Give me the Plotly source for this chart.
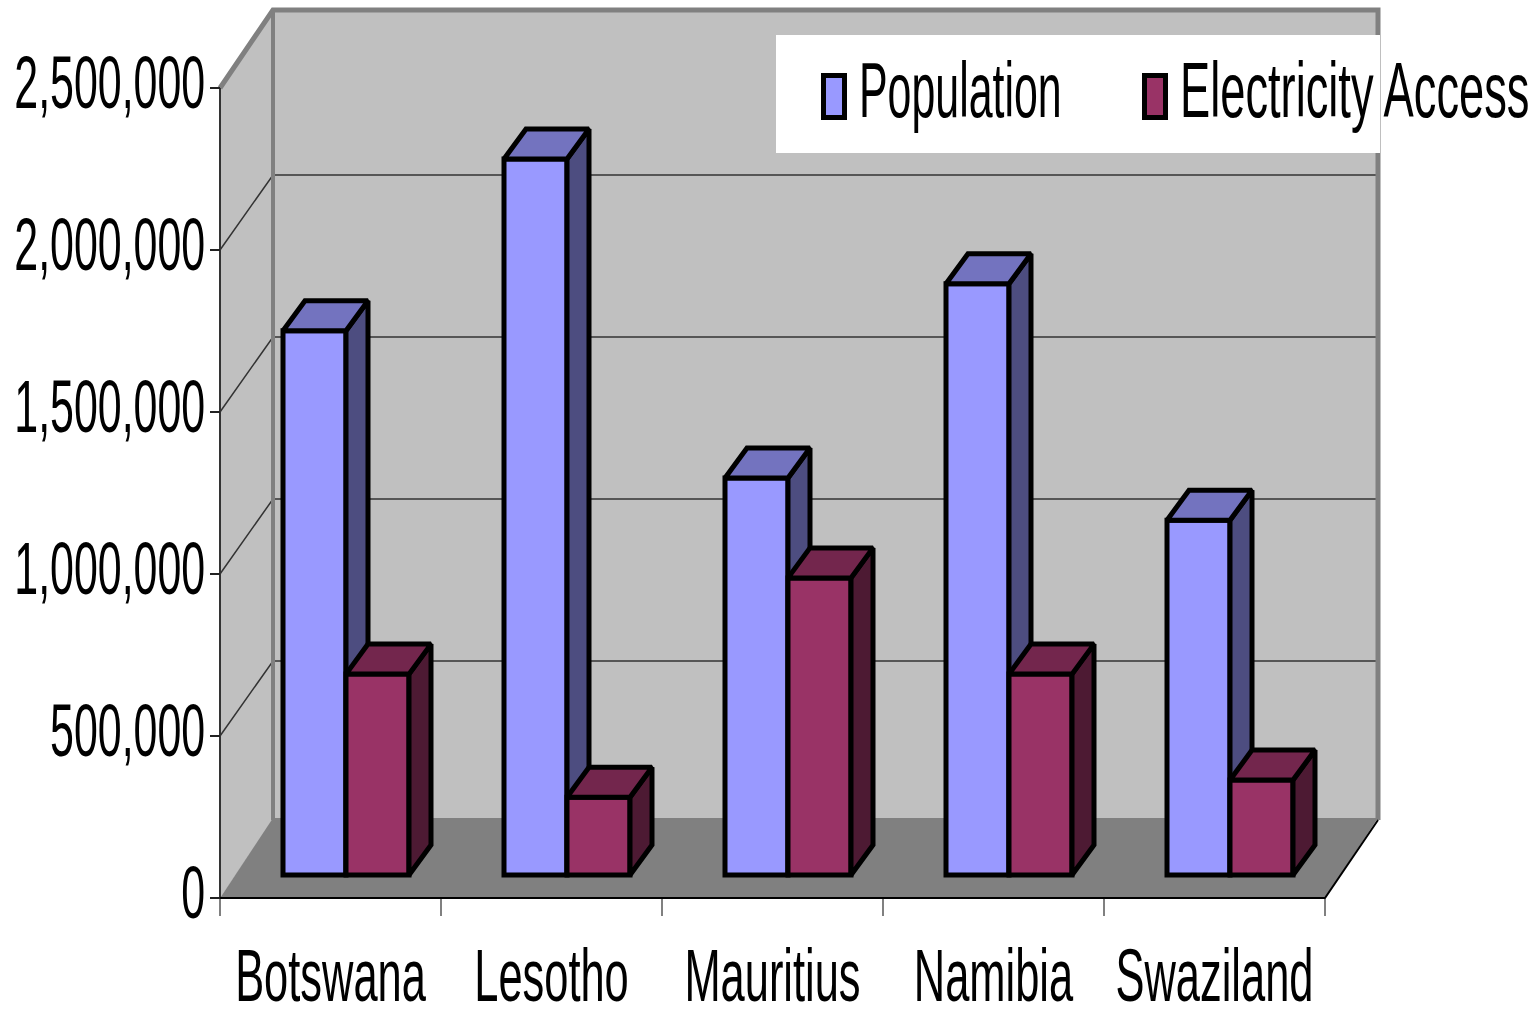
import plotly.graph_objects as go

# Chart data
countries = ["Botswana", "Lesotho", "Mauritius", "Namibia", "Swaziland"]
population = [1680000, 2210000, 1225000, 1825000, 1095000]
electricity_access = [620000, 240000, 917000, 620000, 293000]
value_ticks = [0, 500000, 1000000, 1500000, 2000000, 2500000]

W, H = 1535, 1009
AXIS_LEFT, AXIS_BOTTOM = 220, 898
SLOT_PX = 221.0
UNIT_PX = 810.0 / 2500000

def dx(px):
    return px / SLOT_PX

def dy(px):
    return px / UNIT_PX

x_range = [-dx(AXIS_LEFT), dx(W - AXIS_LEFT)]
y_range = [-dy(H - AXIS_BOTTOM), dy(AXIS_BOTTOM)]

# Oblique offsets that fake the 3D box and the bar prisms
WALL_DX, WALL_DY = dx(53), dy(78)
GRID_DY = dy(75)
FLOOR_DY = dy(80)
BAR_DX, BAR_DY = dx(22), dy(30)
BAR_LIFT = dy(23)
BAR_W = dx(63)
BAR_START = dx(63)
BAR_EDGE = 5
N = len(countries)
TOP = value_ticks[-1]

fig = go.Figure()

def poly(xs, ys, fill, axes=("x", "y"), line=None, lw=0):
    fig.add_trace(go.Scatter(
        x=xs, y=ys, mode="lines", fill="toself", fillcolor=fill,
        line=dict(color=line or fill, width=lw), hoverinfo="skip",
        showlegend=False, xaxis=axes[0], yaxis=axes[1]))

def stroke(xs, ys, color, width):
    fig.add_trace(go.Scatter(
        x=xs, y=ys, mode="lines", line=dict(color=color, width=width),
        hoverinfo="skip", showlegend=False, xaxis="x", yaxis="y"))

# Walls
poly([WALL_DX, N + WALL_DX, N + WALL_DX, WALL_DX],
     [WALL_DY, WALL_DY, TOP + WALL_DY, TOP + WALL_DY], "#c0c0c0")
poly([0, WALL_DX, WALL_DX, 0], [0, WALL_DY, TOP + WALL_DY, TOP], "#c0c0c0")

# Gridlines running along the side wall and across the back wall
grid_x, grid_y = [], []
for v in value_ticks[1:-1]:
    grid_x += [0, WALL_DX, N + WALL_DX, None]
    grid_y += [v, v + GRID_DY, v + GRID_DY, None]
stroke(grid_x, grid_y, "#333333", 1.5)

# Wall frame
stroke([0, WALL_DX, N + WALL_DX, N + WALL_DX],
       [TOP, TOP + WALL_DY, TOP + WALL_DY, WALL_DY], "#808080", 5)
stroke([WALL_DX, WALL_DX], [TOP + WALL_DY, WALL_DY], "#808080", 4)

# Floor
poly([0, N, N + WALL_DX, WALL_DX], [0, 0, FLOOR_DY, FLOOR_DY], "#808080")

# Front edges of the box
stroke([0, 0], [TOP, 0], "#333333", 2)
stroke([0, N, N + WALL_DX], [0, 0, WALL_DY], "#000000", 2)

def series(name, values, shift, front, top, side, axes):
    starts = [i + BAR_START + shift for i in range(N)]
    fig.add_trace(go.Bar(
        x=[s + BAR_W / 2 for s in starts], y=values, base=[BAR_LIFT] * N,
        width=BAR_W, name=name, showlegend=False,
        marker=dict(color=front, line=dict(color="#000000", width=BAR_EDGE)),
        xaxis=axes[0], yaxis=axes[1]))
    for s, v in zip(starts, values):
        t = v + BAR_LIFT
        poly([s + BAR_W, s + BAR_W + BAR_DX, s + BAR_W + BAR_DX, s + BAR_W, s + BAR_W],
             [BAR_LIFT, BAR_LIFT + BAR_DY, t + BAR_DY, t, BAR_LIFT],
             side, axes, "#000000", BAR_EDGE)
        poly([s, s + BAR_DX, s + BAR_W + BAR_DX, s + BAR_W, s],
             [t, t + BAR_DY, t + BAR_DY, t, t],
             top, axes, "#000000", BAR_EDGE)

series("Population", population, 0, "#9999ff", "#7373bf", "#4d4d80", ("x2", "y2"))
series("Electricity Access", electricity_access, BAR_W, "#993366", "#73264d", "#4d1a33", ("x3", "y3"))

def px_x(p):
    return p / W

def px_y(p):
    return 1 - p / H

LEGEND_FONT = dict(family="Liberation Sans", size=78, color="#000000")
shapes = [
    dict(type="rect", xref="paper", yref="paper", layer="above",
         x0=px_x(776), x1=px_x(1380), y0=px_y(153), y1=px_y(35),
         fillcolor="#ffffff", line=dict(width=0)),
    dict(type="rect", xref="paper", yref="paper", layer="above",
         x0=px_x(823.5), x1=px_x(844.5), y0=px_y(117.5), y1=px_y(75.5),
         fillcolor="#9999ff", line=dict(color="#000000", width=5)),
    dict(type="rect", xref="paper", yref="paper", layer="above",
         x0=px_x(1144.5), x1=px_x(1165.5), y0=px_y(117.5), y1=px_y(75.5),
         fillcolor="#993366", line=dict(color="#000000", width=5)),
]
annotations = [
    dict(text="Population", xref="paper", yref="paper", x=px_x(857), y=px_y(90),
         xanchor="left", yanchor="middle", showarrow=False, font=LEGEND_FONT),
    dict(text="Electricity Access", xref="paper", yref="paper", x=px_x(1178), y=px_y(90),
         xanchor="left", yanchor="middle", showarrow=False, font=LEGEND_FONT),
]

overlay = dict(range=x_range, visible=False, fixedrange=True, automargin=False)
overlay_y = dict(range=y_range, visible=False, fixedrange=True, automargin=False)

fig.update_layout(
    width=W, height=H, margin=dict(l=0, r=0, t=0, b=0), autosize=False,
    paper_bgcolor="#ffffff", plot_bgcolor="#ffffff", barmode="overlay",
    showlegend=False, shapes=shapes, annotations=annotations,
    xaxis=dict(
        range=x_range, fixedrange=True, showgrid=False, zeroline=False, automargin=False,
        anchor="free", position=(H - AXIS_BOTTOM) / H,
        tickmode="array", tickvals=[i + 0.5 for i in range(N)], ticktext=countries,
        tickangle=0, ticks="outside", ticklen=0, ticklabelstandoff=13,
        tickfont=dict(family="Liberation Sans", size=74, color="#000000"),
        minor=dict(tickmode="array", tickvals=list(range(N + 1)), ticks="outside",
                   ticklen=17, tickwidth=2, tickcolor="#808080"),
    ),
    yaxis=dict(
        range=y_range, fixedrange=True, showgrid=False, zeroline=False, automargin=False,
        anchor="free", position=AXIS_LEFT / W,
        tickmode="array", tickvals=value_ticks, tickformat=",d",
        ticks="outside", ticklen=10, tickwidth=2, tickcolor="#222222",
        ticklabelstandoff=6,
        tickfont=dict(family="Liberation Sans", size=74, color="#000000"),
    ),
    xaxis2=dict(overlaying="x", anchor="y2", **overlay),
    yaxis2=dict(overlaying="y", anchor="x2", **overlay_y),
    xaxis3=dict(overlaying="x", anchor="y3", **overlay),
    yaxis3=dict(overlaying="y", anchor="x3", **overlay_y),
)

# Squeeze the labels horizontally, keeping each one pinned at its anchor side
condense = """
var gd = document.getElementById('{plot_id}');
function squeeze(t, sx, shiftX, shiftY, useLeft) {
  var box = t.getBBox();
  var ax = useLeft ? box.x : parseFloat(t.getAttribute('x') || 0);
  var prev = t.getAttribute('transform') || '';
  t.setAttribute('transform', prev + ' translate(' + (ax + shiftX) + ',' + shiftY + ') scale(' + sx + ',1) translate(' + (-ax) + ',0)');
}
gd.querySelectorAll('.ytick text').forEach(function (t) { squeeze(t, 0.58, 16, -6, false); });
gd.querySelectorAll('.xtick text').forEach(function (t) { squeeze(t, 0.587, 0, 0, false); });
var legendScale = [0.55, 0.58];
gd.querySelectorAll('.annotation-text').forEach(function (t, i) { squeeze(t, legendScale[i], 0, 0, true); });
"""

fig.write_html("out.html", config=dict(displayModeBar=False),
               post_script=condense)
